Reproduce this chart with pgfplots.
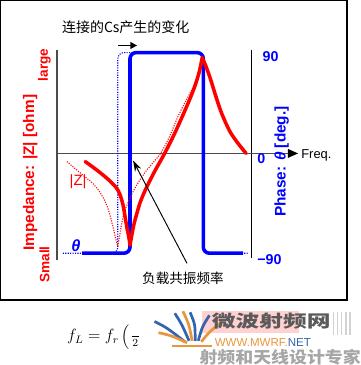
\documentclass[border=0pt]{standalone}
\usepackage{pgfplots}
\pgfplotsset{compat=1.18}
\usepackage{fontspec}
\usetikzlibrary{arrows.meta}
\setmainfont{Liberation Sans}
\newfontfamily\cjk{Noto Sans CJK SC}
\newfontfamily\tnr{Liberation Serif}
\definecolor{zred}{RGB}{255,0,0}
\definecolor{zblue}{RGB}{0,0,255}
\definecolor{wmorange}{RGB}{232,150,60}
\definecolor{wmblue}{RGB}{50,100,175}
\definecolor{wmgray}{RGB}{90,90,90}
\begin{document}
\begin{tikzpicture}
\begin{axis}[scale only axis, width=267pt, height=273.75pt,
  xmin=0, xmax=356, ymin=0, ymax=365, y dir=reverse, hide axis, clip=false]
% frame
\draw[black, line width=1pt] (axis cs:7,7) rectangle (axis cs:347,301);
% axes
\draw[gray!60!black, line width=1.3pt] (axis cs:62,55) -- (axis cs:62,262);
\draw[black, line width=0.8pt] (axis cs:253,55) -- (axis cs:253,260);
\draw[gray!60!black, line width=1.3pt] (axis cs:62,157) -- (axis cs:292,157);
\fill[black] (axis cs:299,157) -- (axis cs:289,152.5) -- (axis cs:289,161.5) -- cycle;
% phase curves
\addplot[zblue, densely dotted, line width=0.8pt, rounded corners=4.5pt] coordinates {
 (68,255) (122,255) (122,58) (206,58) (206,255) (250,255)};
\addplot[zblue, line width=2.6pt, rounded corners=4.5pt] coordinates {
 (87,255) (134,255) (134,58) (206,58) (206,255) (245,255)};
% impedance dotted (shifted)
\addplot[zred, densely dotted, line width=0.8pt, smooth, tension=0.5] coordinates {
 (72,165) (85,176) (97,186) (103,193) (108,201) (112,210) (115,220) (118,232) (120,241) (122,248)};
\addplot[zred, densely dotted, line width=0.8pt, smooth, tension=0.5] coordinates {
 (122,248) (124,237) (126,225) (129,213) (134,201) (140,189) (150,174) (164,157) (173,140) (181,121) (189,105) (197,90) (201,77) (204,63)};
% impedance solid
\addplot[zred, line width=2.6pt, smooth, tension=0.5, line cap=round] coordinates {
 (90,165) (101,173) (112,182) (120,190) (124,197) (127,207) (129,218) (131,230) (133,240) (134,247)};
\addplot[zred, line width=2.6pt, smooth, tension=0.5, line cap=round] coordinates {
 (134,247) (136,236) (138,226) (141,215) (144,205) (149,193) (158,175) (168,157) (178,137) (187,117) (193,103) (198,90) (202,77) (205,63)};
\addplot[zred, line width=2.6pt, smooth, tension=0.5, line cap=round] coordinates {
 (205,63) (208,70) (211,78) (214,87) (218,100) (223,115) (228,127) (233,137) (240,147) (248,157)};
% arrows
\draw[-{Stealth[length=8pt,width=5pt]}, line width=0.7pt] (axis cs:190,265) -- (axis cs:137,164);
\draw[-{Triangle[length=5pt,width=5pt]}, line width=1.1pt] (axis cs:122,51) -- (axis cs:141,51);
% texts
\node[anchor=west, font=\cjk\fontsize{10.3pt}{12pt}\selectfont, inner sep=0pt] at (axis cs:67,33) {连接的Cs产生的变化};
\node[font=\cjk\fontsize{10pt}{12pt}\selectfont, inner sep=0pt] at (axis cs:186,280) {负载共振频率};
\node[anchor=west, font=\fontsize{9.5pt}{11pt}\selectfont, inner sep=0pt] at (axis cs:302,159) {Freq.};
\node[rotate=90, text=zred, font=\bfseries\fontsize{11.3pt}{13pt}\selectfont, inner sep=0pt] at (axis cs:36,176) {Impedance: |Z| [ohm]};
\node[rotate=90, text=zred, font=\bfseries\fontsize{10pt}{12pt}\selectfont, inner sep=0pt] at (axis cs:50,70) {large};
\node[rotate=90, text=zred, font=\bfseries\fontsize{10pt}{12pt}\selectfont, inner sep=0pt] at (axis cs:50,266) {Small};
\node[text=zred, font=\fontsize{11pt}{13pt}\selectfont, inner sep=0pt] at (axis cs:83,185) {|Z|};
\node[text=zblue, font=\bfseries\itshape\fontsize{12pt}{14pt}\selectfont, inner sep=0pt] at (axis cs:81,248) {θ};
\node[text=zblue, font=\bfseries\fontsize{10.5pt}{12pt}\selectfont, inner sep=0pt] at (axis cs:272,62) {90};
\node[text=zblue, font=\bfseries\fontsize{10.5pt}{12pt}\selectfont, inner sep=0pt] at (axis cs:263,162) {0};
\node[text=zblue, font=\bfseries\fontsize{10.5pt}{12pt}\selectfont, inner sep=0pt] at (axis cs:271,261) {−90};
\node[rotate=90, text=zblue, font=\bfseries\fontsize{11.3pt}{13pt}\selectfont, inner sep=0pt] at (axis cs:283,165) {Phase: \textit{θ} [deg.]};
% formula
\node[anchor=west, font=\fontsize{12pt}{14pt}\selectfont, inner sep=0pt] at (axis cs:72,337) {$f_L = f_r\left(\frac{\hphantom{2\,}}{2}\right.$};
% watermark
\fill[red!18] (axis cs:205,312) rectangle (axis cs:300,333);
\draw[gray!35, line width=1pt] (axis cs:334,313) -- (axis cs:334,335);
\draw[gray!35, line width=1pt] (axis cs:338,313) -- (axis cs:338,335);
\draw[gray!35, line width=1pt] (axis cs:342,313) -- (axis cs:342,335);
\draw[gray!35, line width=1pt] (axis cs:346,313) -- (axis cs:346,335);
\draw[gray!35, line width=1pt] (axis cs:350,313) -- (axis cs:350,335);
\draw[wmblue, line width=2pt] (axis cs:158,322) .. controls (axis cs:170,328) .. (axis cs:188,342);
\draw[wmorange, line width=2pt] (axis cs:162,333) .. controls (axis cs:175,336) .. (axis cs:190,343);
\draw[wmblue, line width=2pt] (axis cs:178,314) .. controls (axis cs:185,325) .. (axis cs:192,341);
\draw[wmorange, line width=2pt] (axis cs:186,312) .. controls (axis cs:192,325) .. (axis cs:195,341);
\draw[wmblue, line width=2pt] (axis cs:193,313) .. controls (axis cs:198,325) .. (axis cs:198,341);
\draw[wmblue, line width=2pt] (axis cs:212,316) .. controls (axis cs:205,327) .. (axis cs:201,341);
\draw[wmorange, line width=2pt] (axis cs:225,322) .. controls (axis cs:212,332) .. (axis cs:204,342);
\draw[wmorange, line width=1.5pt] (axis cs:175,346) -- (axis cs:215,346);
\node[anchor=west, xscale=1.4, text=wmgray, font=\cjk\bfseries\fontsize{12.5pt}{15pt}\selectfont, inner sep=0pt] at (axis cs:214,322) {微波射频网};
\node[anchor=west, text=wmorange, font=\fontsize{8.5pt}{10pt}\selectfont, inner sep=0pt] at (axis cs:217,343) {WWW.MWRF.\textcolor{wmblue}{NET}};
\node[anchor=west, xscale=1.1, text=gray!70, font=\cjk\bfseries\fontsize{12pt}{14pt}\selectfont, inner sep=0pt] at (axis cs:202,357) {射频和天线设计专家};
\end{axis}
\end{tikzpicture}
\end{document}
